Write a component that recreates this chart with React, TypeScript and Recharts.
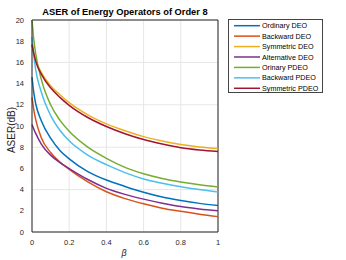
import { LineChart, Line, XAxis, YAxis, CartesianGrid, ReferenceLine } from 'recharts';

const betas = [0, 0.01, 0.02, 0.05, 0.1, 0.15, 0.2, 0.3, 0.4, 0.5, 0.6, 0.7, 0.8, 0.9, 1];
const ordinaryDEO = [14.6, 13.1, 12.1, 10.5, 8.85, 7.7, 6.9, 5.7, 4.9, 4.3, 3.75, 3.3, 2.97, 2.7, 2.5];
const backwardDEO = [12.7, 11.5, 10.6, 8.9, 7.5, 6.6, 5.9, 4.72, 3.8, 3.15, 2.66, 2.25, 1.95, 1.68, 1.45];
const symmetricDEO = [17.6, 16.85, 16.2, 15.05, 13.8, 12.95, 12.2, 11.05, 10.2, 9.55, 9.0, 8.58, 8.25, 8.03, 7.87];
const alternativeDEO = [10.15, 9.7, 9.3, 8.3, 7.25, 6.55, 5.98, 4.95, 4.12, 3.55, 3.1, 2.72, 2.4, 2.18, 2.0];
const ordinaryPDEO = [20, 18.1, 16.8, 14.4, 12.0, 10.55, 9.5, 8.0, 6.95, 6.1, 5.5, 5.05, 4.72, 4.46, 4.25];
const backwardPDEO = [18.4, 16.6, 15.3, 13.2, 11.0, 9.6, 8.6, 7.25, 6.35, 5.6, 5.0, 4.6, 4.27, 4.0, 3.78];
const symmetricPDEO = [17.7, 16.8, 16.1, 14.9, 13.6, 12.7, 11.95, 10.8, 9.95, 9.27, 8.72, 8.3, 7.95, 7.74, 7.6];

const xTicks = [0, 0.2, 0.4, 0.6, 0.8, 1];
const yTicks = [0, 2, 4, 6, 8, 10, 12, 14, 16, 18, 20];

const series = [
  { key: 'od', name: 'Ordinary DEO', values: ordinaryDEO, color: '#0072BD' },
  { key: 'bd', name: 'Backward DEO', values: backwardDEO, color: '#D95319' },
  { key: 'sd', name: 'Symmetric DEO', values: symmetricDEO, color: '#EDB120' },
  { key: 'ad', name: 'Alternative DEO', values: alternativeDEO, color: '#7E2F8E' },
  { key: 'op', name: 'Orinary PDEO', values: ordinaryPDEO, color: '#77AC30' },
  { key: 'bp', name: 'Backward PDEO', values: backwardPDEO, color: '#4DBEEE' },
  { key: 'sp', name: 'Symmetric PDEO', values: symmetricPDEO, color: '#A2142F' },
];

const data = betas.map((b, i) => {
  const row: Record<string, number> = { beta: b };
  series.forEach((s) => (row[s.key] = s.values[i]));
  return row;
});

const font = '"Liberation Sans", Arial, sans-serif';
const axisColor = '#262626';

// legend box, placed outside the axes like MATLAB's 'northeastoutside'
const LegendBox = () => (
  <g fontFamily={font}>
    <rect x={228.5} y={19.5} width={94} height={73} fill="#fff" stroke="#444" strokeWidth={1} />
    {series.map((s, i) => {
      const cy = 25.7 + i * 10.43;
      return (
        <g key={s.key}>
          <line x1={234} x2={260} y1={cy} y2={cy} stroke={s.color} strokeWidth={1.5} />
          <text x={262} y={cy + 2.6} fontSize={7.2} fill="#000">
            {s.name}
          </text>
        </g>
      );
    })}
  </g>
);

const App = () => {
  return (
    <div style={{ position: 'absolute', left: 0, top: 0, width: 346, height: 260, background: '#fff' }}>
      <LineChart width={346} height={260} data={data} margin={{ top: 20, right: 128, left: 0, bottom: 0 }}>
        <CartesianGrid stroke="#e6e6e6" strokeWidth={1} />
        <XAxis
          dataKey="beta"
          type="number"
          domain={[0, 1]}
          ticks={xTicks}
          tickFormatter={(v) => String(v)}
          tick={{ fontSize: 7.5, fill: axisColor, fontFamily: font }}
          tickLine={false}
          stroke={axisColor}
          height={28}
        />
        <YAxis
          type="number"
          domain={[0, 20]}
          ticks={yTicks}
          tick={{ fontSize: 7.5, fill: axisColor, fontFamily: font }}
          tickLine={false}
          stroke={axisColor}
          width={32}
        />
        <ReferenceLine x={1} stroke={axisColor} />
        <ReferenceLine y={20} stroke={axisColor} />
        {series.map((s) => (
          <Line
            key={s.key}
            dataKey={s.key}
            name={s.name}
            type="monotone"
            stroke={s.color}
            strokeWidth={1.5}
            dot={false}
            isAnimationActive={false}
          />
        ))}
        <text x={125} y={15} textAnchor="middle" fontSize={9.3} fontWeight="bold" fill="#000" fontFamily={font}>
          ASER of Energy Operators of Order 8
        </text>
        <text x={124} y={256} textAnchor="middle" fontSize={9} fontStyle="italic" fill={axisColor} fontFamily={font}>
          β
        </text>
        <text
          x={14.5}
          y={130}
          textAnchor="middle"
          fontSize={10}
          fill={axisColor}
          fontFamily={font}
          transform="rotate(-90 14.5 130)"
        >
          ASER(dB)
        </text>
        <LegendBox />
      </LineChart>
    </div>
  );
};

export default App;
